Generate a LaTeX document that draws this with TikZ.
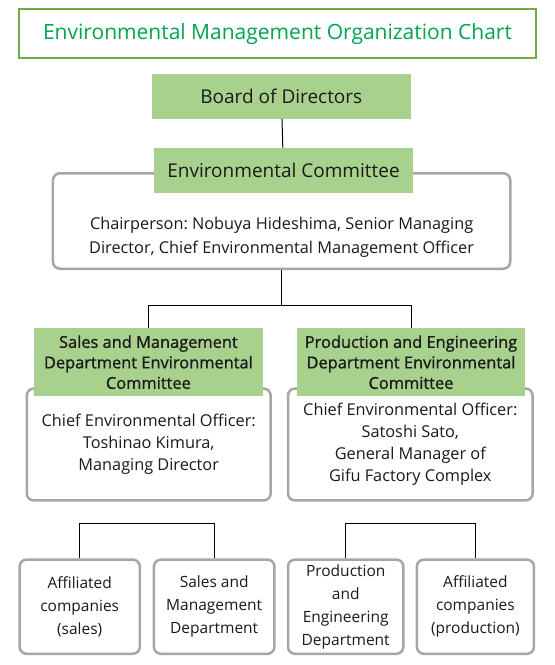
\documentclass[tikz,border=0pt]{standalone}
\usepackage{fontspec}
\setmainfont{Open Sans}
\newfontfamily\headfont{Open Sans}[FakeBold=1.1]
\frenchspacing
\definecolor{boxgreen}{HTML}{A9D18E}
\definecolor{framegreen}{HTML}{70AD47}
\definecolor{titlegreen}{HTML}{00A34F}
\definecolor{boxgray}{HTML}{A6A6A6}
\definecolor{inkgray}{HTML}{1A1A1A}

\begin{document}
\begin{tikzpicture}
[x=1pt, y=-1pt,
 every node/.style={align=center, inner sep=0pt, text=inkgray},
 nodeTitle/.style={draw=framegreen, line width=2pt, text=titlegreen,
   minimum width=517.6pt, minimum height=49.3pt,
   font=\fontsize{21}{25}\selectfont},
 nodeTop/.style={fill=boxgreen, minimum width=258.7pt, minimum height=44.7pt,
   font=\fontsize{19}{23}\selectfont},
 nodeHead/.style={fill=boxgreen, minimum height=67.7pt,
   font=\headfont\fontsize{16.4}{20.5}\selectfont},
 nodeBody/.style={draw=boxgray, line width=2.5pt, rounded corners=7pt,
   fill=white, font=\fontsize{16.3}{22}\selectfont},
 nodeUnit/.style={nodeBody, minimum height=94.2pt,
   font=\fontsize{15.5}{23}\selectfont},
 link/.style={draw=black, line width=1pt}
]
\useasboundingbox (0,0) rectangle (555,665);
\node[nodeTitle] (title) at (277.5, 33.7)
  {Environmental Management Organization Chart};
\node[nodeTop]   (board) at (281.3, 96.3) {Board of Directors};
\node[nodeBody, minimum width=457.3pt, minimum height=95.5pt]
                 (ECbox) at (281.6, 221) {};
\node[nodeTop]   (EChead) at (283.5, 170.3) {Environmental Committee};
\node[font=\fontsize{16.3}{24.3}\selectfont] (ECtext) at (281.6, 237)
  {Chairperson: Nobuya Hideshima, Senior Managing\\
   Director, Chief Environmental Management Officer};
\draw[link] (board) -- (EChead);
% second level
\node[nodeBody, minimum width=243.9pt, minimum height=111.9pt]
                 (SMbox) at (148.7, 444.5)
  {Chief Environmental Officer:\\ Toshinao Kimura,\\ Managing Director};
\node[nodeHead, minimum width=228.7pt] (SMhead) at (148.4, 362.2)
  {Sales and Management\\ Department Environmental\\ Committee};
\node[nodeBody, minimum width=244.6pt, minimum height=111.9pt]
                 (PEbox) at (410.3, 444.5)
  {Chief Environmental Officer:\\ Satoshi Sato,\\ General Manager of\\
   Gifu Factory Complex};
\node[nodeHead, minimum width=227.3pt] (PEhead) at (411, 362.2)
  {Production and Engineering\\ Department Environmental\\ Committee};
\coordinate (split) at (281.6, 305.7);
\draw[link] (ECbox.south) -- (split) -| (SMhead.north);
\draw[link] (split) -| (PEhead.north);
% units
\node[nodeUnit, minimum width=120.2pt] (AffS) at ( 79.7, 606.7)
  {Affiliated\\ companies\\ (sales)};
\node[nodeUnit, minimum width=120.5pt] (SMD)  at (214.2, 606.7)
  {Sales and\\ Management\\ Department};
\node[nodeUnit, minimum width=115.4pt] (PED)  at (345.7, 606.7)
  {Production\\ and\\ Engineering\\ Department};
\node[nodeUnit, minimum width=117.1pt] (AffP) at (475.4, 606.7)
  {Affiliated\\ companies\\ (production)};
\coordinate (forkS) at (148.5, 523.3);
\coordinate (forkP) at (410.5, 523.3);
\draw[link] (AffS.north) |- (forkS) -| (SMD.north);
\draw[link] (PED.north) |- (forkP) -| (AffP.north);
\end{tikzpicture}
\end{document}
